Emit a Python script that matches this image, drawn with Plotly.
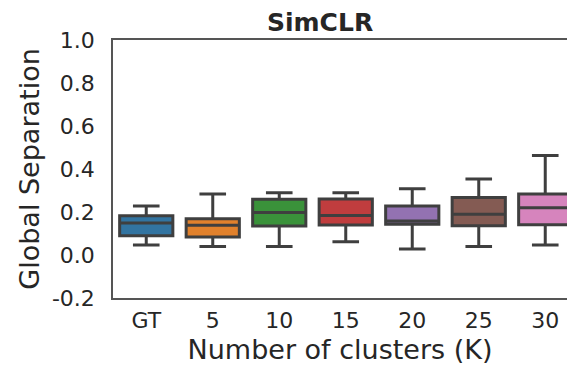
import plotly.graph_objects as go

# Box-plot summary statistics per clustering setting
categories = ["GT", "5", "10", "15", "20", "25", "30"]
lower_whisker = [0.047, 0.040, 0.040, 0.062, 0.028, 0.040, 0.047]
q1 = [0.090, 0.084, 0.135, 0.140, 0.143, 0.136, 0.141]
median = [0.149, 0.138, 0.198, 0.184, 0.158, 0.190, 0.220]
q3 = [0.183, 0.169, 0.259, 0.260, 0.228, 0.267, 0.284]
upper_whisker = [0.228, 0.284, 0.290, 0.290, 0.308, 0.353, 0.463]

colors = ["#3274a1", "#e1812c", "#3a923a", "#c03d3e", "#9372b2", "#845b53", "#d684bd"]
line_color = "#3f3f3f"
font_family = "DejaVu Sans"

fig = go.Figure()
for i, cat in enumerate(categories):
    fig.add_trace(go.Box(
        x=[i],
        q1=[q1[i]],
        median=[median[i]],
        q3=[q3[i]],
        lowerfence=[lower_whisker[i]],
        upperfence=[upper_whisker[i]],
        width=0.8,
        whiskerwidth=0.5,
        fillcolor=colors[i],
        line=dict(color=line_color, width=3),
        boxpoints=False,
        showlegend=False,
        hoverinfo="skip",
    ))

fig.update_layout(
    width=567,
    height=369,
    margin=dict(l=113, r=0, t=40, b=71),
    plot_bgcolor="white",
    paper_bgcolor="white",
    font=dict(family=font_family, color="#262626"),
    annotations=[dict(
        text="<b>SimCLR</b>",
        x=0.455, y=1.0, xref="paper", yref="paper",
        xanchor="center", yanchor="bottom", yshift=1,
        showarrow=False,
        font=dict(family=font_family, size=25, color="#262626"),
    )],
)

fig.update_xaxes(
    range=[-0.5, 6.327],
    tickmode="array",
    tickvals=list(range(len(categories))),
    ticktext=categories,
    tickfont=dict(size=22, color="#262626"),
    ticks="",
    ticklabelstandoff=2,
    showgrid=False,
    zeroline=False,
    showline=True,
    linecolor="#555555",
    linewidth=1.5,
    mirror=True,
    title=dict(text="Number of clusters (K)", font=dict(size=27, color="#262626"), standoff=8),
)

fig.update_yaxes(
    range=[-0.2, 1.0],
    tickmode="array",
    tickvals=[-0.2, 0.0, 0.2, 0.4, 0.6, 0.8, 1.0],
    ticktext=["-0.2", "0.0", "0.2", "0.4", "0.6", "0.8", "1.0"],
    tickfont=dict(size=22, color="#262626"),
    ticks="",
    ticklabelstandoff=12,
    showgrid=False,
    zeroline=False,
    showline=True,
    linecolor="#555555",
    linewidth=1.5,
    mirror=False,
    title=dict(text="Global Separation", font=dict(size=27, color="#262626"), standoff=4),
)

fig.write_html("out.html")
